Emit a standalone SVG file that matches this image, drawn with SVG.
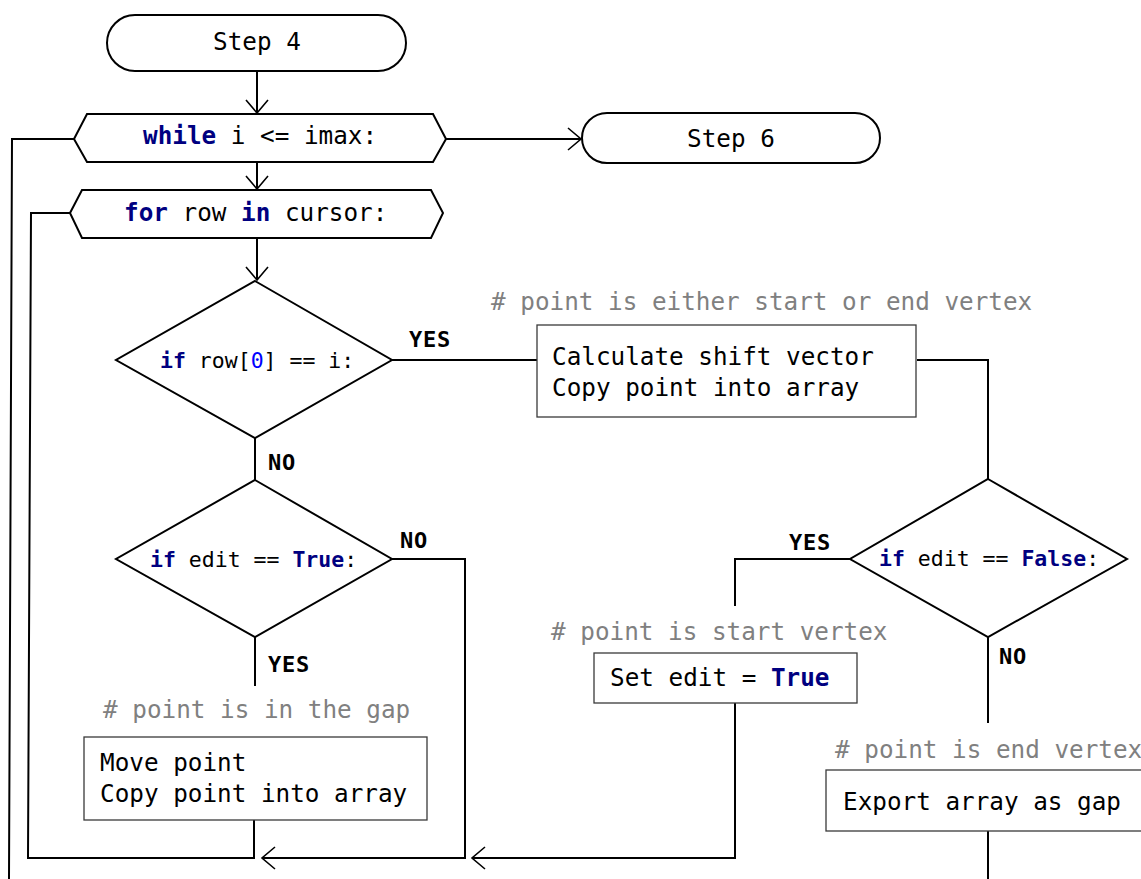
<svg xmlns="http://www.w3.org/2000/svg" width="1141" height="879" viewBox="0 0 1141 879">
  <defs>
    <style>
      .shape { fill: #ffffff; stroke: #000000; stroke-width: 2; }
      .box { fill: #ffffff; stroke: #3a3a3a; stroke-width: 1.3; }
      .wire { fill: none; stroke: #000000; stroke-width: 2; }
      .t { font-family: "DejaVu Sans Mono", "Liberation Mono", monospace; font-size: 24.3px; fill: #000000; }
      .c { font-family: "DejaVu Sans Mono", "Liberation Mono", monospace; font-size: 24.3px; fill: #808080; }
      .d { font-family: "DejaVu Sans Mono", "Liberation Mono", monospace; font-size: 21.5px; fill: #000000; }
      .kw { font-weight: bold; fill: #000080; }
      .num { fill: #0000ff; }
      .lbl { font-family: "DejaVu Sans Mono", "Liberation Mono", monospace; font-size: 22px; font-weight: bold; fill: #000000; letter-spacing: 0.8px; }
    </style>
    <marker id="arrow" markerUnits="userSpaceOnUse" markerWidth="30" markerHeight="30" refX="15" refY="15" orient="auto" overflow="visible">
      <path d="M2,4 L15,15 L2,26" fill="none" stroke="#000000" stroke-width="1.6"/>
    </marker>
  </defs>

  <!-- connectors -->
  <g id="connectors">
    <path class="wire" d="M257,71 L257,113" marker-end="url(#arrow)"/>
    <path class="wire" d="M257,162 L257,189" marker-end="url(#arrow)"/>
    <path class="wire" d="M257,238 L257,280" marker-end="url(#arrow)"/>
    <path class="wire" d="M446,139 L581,139" marker-end="url(#arrow)"/>
    <path class="wire" d="M74,139 L12,139 L9,879"/>
    <path class="wire" d="M254,820 L254,858 L28,858 L31,213 L70,213"/>
    <path class="wire" d="M392,360 L537,360"/>
    <path class="wire" d="M917,360 L988,360 L988,479"/>
    <path class="wire" d="M255,438 L255,480"/>
    <path class="wire" d="M392,559 L465,559 L465,858 L262,858" marker-end="url(#arrow)"/>
    <path class="wire" d="M255,637 L255,686"/>
    <path class="wire" d="M850,559 L735,559 L735,606"/>
    <path class="wire" d="M735,703 L735,858 L472,858" marker-end="url(#arrow)"/>
    <path class="wire" d="M988,637 L988,723"/>
    <path class="wire" d="M988,831 L988,879"/>
  </g>

  <!-- branch labels -->
  <g id="labels">
    <text class="lbl" x="409" y="347">YES</text>
    <text class="lbl" x="268" y="470">NO</text>
    <text class="lbl" x="400" y="548">NO</text>
    <text class="lbl" x="268" y="672">YES</text>
    <text class="lbl" x="789" y="550">YES</text>
    <text class="lbl" x="999" y="664">NO</text>
  </g>

  <g id="step4">
    <rect class="shape" x="107" y="15" width="299" height="56" rx="28" ry="28"/>
    <text class="t" x="257" y="50" text-anchor="middle">Step 4</text>
  </g>

  <g id="while-loop">
    <polygon class="shape" points="74,139 87,114 433,114 446,139 433,162 87,162"/>
    <text class="t" x="143" y="144"><tspan class="kw">while</tspan> i &lt;= imax:</text>
  </g>

  <g id="step6">
    <rect class="shape" x="582" y="113" width="298" height="50" rx="25" ry="25"/>
    <text class="t" x="731" y="147" text-anchor="middle">Step 6</text>
  </g>

  <g id="for-loop">
    <polygon class="shape" points="70,213 82,190 431,190 443,213 431,238 82,238"/>
    <text class="t" x="124" y="221"><tspan class="kw">for</tspan> row <tspan class="kw">in</tspan> cursor:</text>
  </g>

  <g id="check-row">
    <polygon class="shape" points="255,281 392,360 255,438 116,360"/>
    <text class="d" x="160" y="368"><tspan class="kw">if</tspan> row[<tspan class="num">0</tspan>] == i:</text>
  </g>

  <g id="shift-vector">
    <text class="c" x="491" y="310"># point is either start or end vertex</text>
    <rect class="box" x="537" y="325" width="379" height="92"/>
    <text class="t" x="552" y="365">Calculate shift vector</text>
    <text class="t" x="552" y="396">Copy point into array</text>
  </g>

  <g id="check-edit-true">
    <polygon class="shape" points="255,480 392,559 255,637 116,559"/>
    <text class="d" x="150" y="567"><tspan class="kw">if</tspan> edit == <tspan class="kw">True</tspan>:</text>
  </g>

  <g id="move-point">
    <text class="c" x="103" y="718"># point is in the gap</text>
    <rect class="box" x="84" y="737" width="343" height="83"/>
    <text class="t" x="100" y="771">Move point</text>
    <text class="t" x="100" y="802">Copy point into array</text>
  </g>

  <g id="check-edit-false">
    <polygon class="shape" points="988,479 1127,559 988,637 850,559"/>
    <text class="d" x="879" y="566"><tspan class="kw">if</tspan> edit == <tspan class="kw">False</tspan>:</text>
  </g>

  <g id="set-edit">
    <text class="c" x="551" y="640"># point is start vertex</text>
    <rect class="box" x="594" y="653" width="263" height="50"/>
    <text class="t" x="610" y="686">Set edit = <tspan class="kw">True</tspan></text>
  </g>

  <g id="export-gap">
    <text class="c" x="835" y="758"># point is end vertex</text>
    <rect class="box" x="826" y="770" width="330" height="61"/>
    <text class="t" x="843" y="810">Export array as gap</text>
  </g>
</svg>
